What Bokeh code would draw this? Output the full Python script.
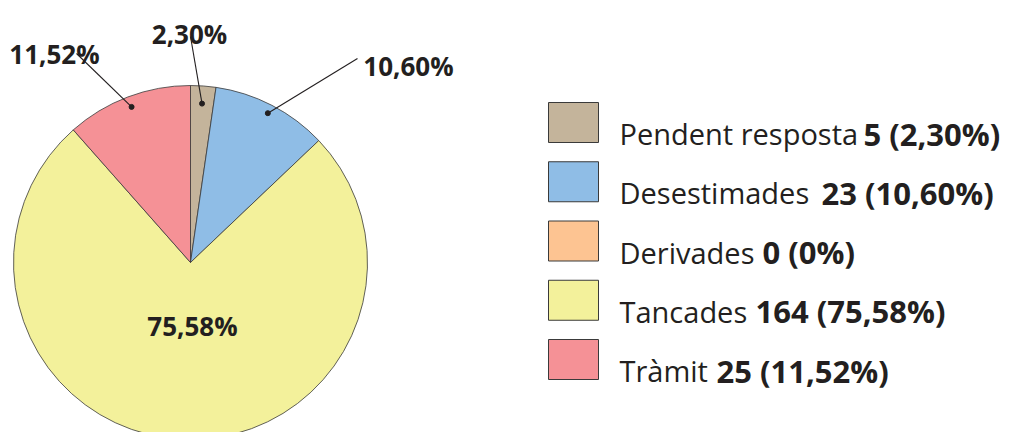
import math
from bokeh.plotting import figure
from bokeh.models import Range1d
from bokeh.core.properties import value
from bokeh.embed import file_html
from bokeh.resources import INLINE

# ---- data ----
categories = ["Pendent resposta", "Desestimades", "Derivades", "Tancades", "Tràmit"]
counts = [5, 23, 0, 164, 25]
pct_labels = ["2,30%", "10,60%", "0%", "75,58%", "11,52%"]
colors = ["#c4b49b", "#8fbde6", "#fdc492", "#f3f19b", "#f59196"]

# ---- layout ----
W, H = 1012, 432
CX, CY, R = 182, 170, 177
FONT = "Open Sans"
TXT = "#231f20"

p = figure(width=W, height=H, x_range=Range1d(-8, W - 8), y_range=Range1d(0, H),
           output_backend="svg", toolbar_location=None, min_border=0)
p.axis.visible = False
p.grid.visible = False
p.outline_line_color = None
p.background_fill_color = "white"
p.border_fill_color = "white"

total = float(sum(counts))
starts, ends, cols, mids = [], [], [], []
cum = 0.0
for c, col in zip(counts, colors):
    a0 = math.pi / 2 - cum / total * 2 * math.pi
    cum += c
    a1 = math.pi / 2 - cum / total * 2 * math.pi
    mids.append((a0 + a1) / 2)
    if c > 0:
        starts.append(a0)
        ends.append(a1)
        cols.append(col)

p.wedge(x=CX, y=CY, radius=R, start_angle=starts, end_angle=ends,
        direction="clock", fill_color=cols, line_color="#3a3a3a", line_width=0.8)

# ---- slice labels ----
# (index, label anchor x, baseline y, leader start x, leader start y, dot radius frac)
outside = [
    (4, 46, 379, 68, 379, 0.94),
    (0, 181, 399, 182, 396, 0.90),
    (1, 400, 367, 349, 374, 0.95),
]
lx, ly, lt = [], [], []
for idx, tx, ty, sx, sy, fr in outside:
    dx = CX + fr * R * math.cos(mids[idx])
    dy = CY + fr * R * math.sin(mids[idx])
    p.line([sx, dx], [sy, dy], line_color=TXT, line_width=1.1)
    p.scatter([dx], [dy], size=5, color=TXT)
    lx.append(tx); ly.append(ty); lt.append(pct_labels[idx])
# inside label for the large slice
lx.append(184); ly.append(107); lt.append(pct_labels[3])
p.text(x=lx, y=ly, text=lt, text_font=value(FONT), text_font_style="bold",
       text_font_size="26px", text_color=TXT, text_align="center",
       text_baseline="alphabetic")

# ---- legend ----
box_x, box_w, box_h = 565, 50, 40
row_y0, row_step = 310, 59.25
text_x = 611
legend_bold_dx = [244, 202, 143, 136, 97]
bx, by, rx, ry, rt, bxx, btt = [], [], [], [], [], [], []
for i, (cat, c, pl) in enumerate(zip(categories, counts, pct_labels)):
    yc = row_y0 - i * row_step
    bx.append(box_x); by.append(yc)
    rx.append(text_x); ry.append(yc - 11); rt.append(cat)
    bxx.append(text_x + legend_bold_dx[i]); btt.append(f"{c} ({pl})")
p.rect(x=bx, y=by, width=box_w, height=box_h, fill_color=colors,
       line_color="#3a3a3a", line_width=1)
p.text(x=rx, y=ry, text=rt, text_font=value(FONT), text_font_size="29px",
       text_color=TXT, text_align="left", text_baseline="alphabetic")
p.text(x=bxx, y=ry, text=btt, text_font=value(FONT), text_font_style="bold",
       text_font_size="31px", text_color=TXT, text_align="left",
       text_baseline="alphabetic")

open("out.html", "w").write(file_html(p, INLINE))
